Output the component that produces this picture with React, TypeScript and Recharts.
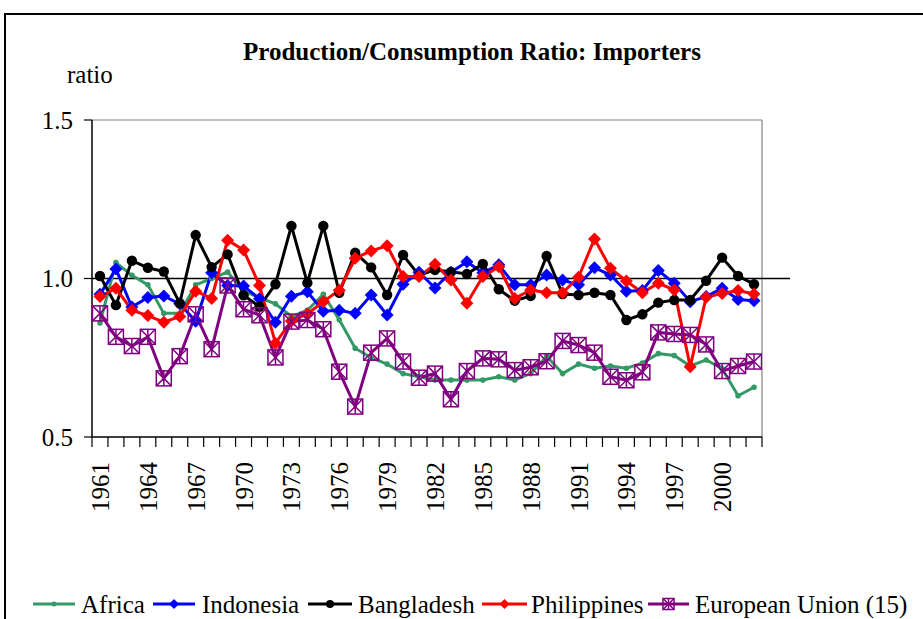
import React from 'react';
import { LineChart, Line, XAxis, YAxis, ReferenceLine } from 'recharts';

const years = [
  1961, 1962, 1963, 1964, 1965, 1966, 1967, 1968, 1969, 1970,
  1971, 1972, 1973, 1974, 1975, 1976, 1977, 1978, 1979, 1980,
  1981, 1982, 1983, 1984, 1985, 1986, 1987, 1988, 1989, 1990,
  1991, 1992, 1993, 1994, 1995, 1996, 1997, 1998, 1999, 2000,
  2001, 2002,
];

const africa = [
  0.86, 1.05, 1.01, 0.98, 0.89, 0.89, 0.98, 1.0, 1.02, 0.96,
  0.94, 0.92, 0.88, 0.9, 0.95, 0.87, 0.78, 0.75, 0.73, 0.7,
  0.69, 0.68, 0.68, 0.68, 0.68, 0.69, 0.68, 0.7, 0.755, 0.7,
  0.73, 0.717, 0.724, 0.717, 0.733, 0.763, 0.757, 0.724, 0.743, 0.716,
  0.63, 0.657,
];

const indonesia = [
  0.95, 1.03, 0.91, 0.94, 0.945, 0.92, 0.865, 1.018, 0.978, 0.976,
  0.936, 0.862, 0.944, 0.958, 0.897, 0.9, 0.89, 0.948, 0.885, 0.982,
  1.02, 0.97, 1.02, 1.053, 1.018, 1.043, 0.98, 0.98, 1.011, 0.995,
  0.98, 1.034, 1.011, 0.96, 0.962, 1.025, 0.985, 0.927, 0.943, 0.969,
  0.934, 0.93,
];

const bangladesh = [
  1.008, 0.916, 1.056, 1.034, 1.022, 0.922, 1.137, 1.036, 1.076, 0.947,
  0.911, 0.982, 1.166, 0.986, 1.166, 0.955, 1.081, 1.035, 0.948, 1.074,
  1.01, 1.027, 1.021, 1.014, 1.046, 0.966, 0.93, 0.945, 1.071, 0.951,
  0.948, 0.955, 0.948, 0.869, 0.887, 0.924, 0.932, 0.932, 0.993, 1.066,
  1.008, 0.982,
];

const philippines = [
  0.943, 0.969, 0.9, 0.883, 0.862, 0.88, 0.96, 0.937, 1.121, 1.09,
  0.978, 0.796, 0.866, 0.888, 0.927, 0.963, 1.064, 1.087, 1.103, 1.006,
  1.006, 1.045, 0.995, 0.922, 1.006, 1.037, 0.937, 0.964, 0.955, 0.955,
  1.004, 1.125, 1.032, 0.992, 0.955, 0.985, 0.964, 0.722, 0.941, 0.953,
  0.962, 0.951,
];

const europeanUnion = [
  0.89, 0.816, 0.787, 0.816, 0.685, 0.755, 0.887, 0.777, 0.978, 0.903,
  0.884, 0.751, 0.864, 0.869, 0.84, 0.706, 0.596, 0.766, 0.811, 0.738,
  0.687, 0.7, 0.619, 0.708, 0.748, 0.745, 0.711, 0.72, 0.739, 0.803,
  0.79, 0.766, 0.69, 0.679, 0.704, 0.83, 0.825, 0.822, 0.792, 0.708,
  0.724, 0.738,
];

const xTickLabels = [1961, 1964, 1967, 1970, 1973, 1976, 1979, 1982, 1985, 1988, 1991, 1994, 1997, 2000];
const yTicks = [0.5, 1.0, 1.5];

const seriesNames = ['Africa', 'Indonesia', 'Bangladesh', 'Philippines', 'European Union (15)'];
const seriesKeys = ['africa', 'indonesia', 'bangladesh', 'philippines', 'eu'];
const seriesColors = ['#339966', '#0000FF', '#000000', '#FF0000', '#800080'];

const data = years.map((y, i) => ({
  year: y,
  africa: africa[i],
  indonesia: indonesia[i],
  bangladesh: bangladesh[i],
  philippines: philippines[i],
  eu: europeanUnion[i],
}));

const boundaries = [years[0] - 0.5, ...years.map((y) => y + 0.5)];

const FONT = '"Liberation Serif", "Times New Roman", serif';
const FS = 25;

const Marker = ({ kind, cx, cy, color, small }: any) => {
  if (cx == null || cy == null) return null;
  if (kind === 'africa') {
    return <circle cx={cx} cy={cy} r={small ? 2.5 : 2.8} fill={color} />;
  }
  if (kind === 'bangladesh') {
    return <circle cx={cx} cy={cy} r={small ? 4 : 5.2} fill={color} />;
  }
  if (kind === 'indonesia' || kind === 'philippines') {
    const s = small ? 5 : 6.5;
    return (
      <polygon
        points={`${cx},${cy - s} ${cx + s},${cy} ${cx},${cy + s} ${cx - s},${cy}`}
        fill={color}
      />
    );
  }
  const h = small ? 5.5 : 7.5;
  return (
    <g stroke={color} strokeWidth={1.5} fill="none">
      <rect x={cx - h} y={cy - h} width={2 * h} height={2 * h} />
      <line x1={cx - h} y1={cy - h} x2={cx + h} y2={cy + h} />
      <line x1={cx + h} y1={cy - h} x2={cx - h} y2={cy + h} />
      <line x1={cx} y1={cy - h} x2={cx} y2={cy + h} />
    </g>
  );
};

const makeDot = (kind: string, color: string) => (props: any) => (
  <Marker key={`${kind}-${props.index}`} kind={kind} cx={props.cx} cy={props.cy} color={color} />
);

const XTick = (props: any) => {
  const { x, y, payload } = props;
  const v = payload.value;
  if (!Number.isInteger(v)) {
    return <line x1={x} y1={y} x2={x} y2={y + 10} stroke="#000" strokeWidth={1.2} />;
  }
  return (
    <text
      transform={`translate(${x + 9},${y + 25}) rotate(-90)`}
      textAnchor="end"
      fontFamily={FONT}
      fontSize={FS}
      fill="#000"
    >
      {v}
    </text>
  );
};

const YTick = (props: any) => {
  const { y, payload } = props;
  return (
    <text
      x={73}
      y={y + 8.5}
      textAnchor="end"
      fontFamily={FONT}
      fontSize={FS}
      fill="#000"
    >
      {Number(payload.value).toFixed(1)}
    </text>
  );
};

const legendPos = [
  { l1: 33, l2: 75, t: 81 },
  { l1: 153, l2: 195, t: 202 },
  { l1: 308, l2: 352, t: 358 },
  { l1: 482, l2: 527, t: 531 },
  { l1: 648, l2: 689, t: 695 },
];

export default function App() {
  return (
    <div style={{ position: 'absolute', left: 0, top: 0, width: 923, height: 619, background: '#fff', overflow: 'hidden' }}>
      <div style={{ position: 'absolute', left: 0, top: 0 }}>
        <LineChart
          width={923}
          height={619}
          data={data}
          margin={{ top: 120, right: 161, bottom: 122, left: 52 }}
        >
          <ReferenceLine y={1.5} stroke="#808080" strokeWidth={1.2} />
          <ReferenceLine x={2002.5} stroke="#808080" strokeWidth={1.2} />
          <XAxis
            dataKey="year"
            type="number"
            domain={[1960.5, 2002.5]}
            ticks={[...boundaries, ...xTickLabels]}
            interval={0}
            tickSize={0}
            tickMargin={0}
            tickLine={false}
            axisLine={{ stroke: '#000', strokeWidth: 1.5 }}
            tick={<XTick />}
            height={60}
            allowDataOverflow
          />
          <YAxis
            type="number"
            domain={[0.5, 1.5]}
            ticks={yTicks}
            interval={0}
            width={40}
            tickSize={8}
            tickLine={{ stroke: '#000', strokeWidth: 1.2 }}
            axisLine={{ stroke: '#000', strokeWidth: 1.5 }}
            tick={<YTick />}
            allowDataOverflow
          />
          <ReferenceLine
            segment={[{ x: 1960.5, y: 1 }, { x: 2004.26, y: 1 }]}
            stroke="#000"
            strokeWidth={1.5}
            ifOverflow="visible"
          />
          {seriesKeys.map((k, i) => (
            <Line
              key={k}
              type="linear"
              dataKey={k}
              name={seriesNames[i]}
              stroke={seriesColors[i]}
              strokeWidth={3}
              dot={makeDot(k, seriesColors[i])}
              activeDot={false}
              isAnimationActive={false}
            />
          ))}
        </LineChart>
      </div>
      <svg
        width={923}
        height={619}
        style={{ position: 'absolute', left: 0, top: 0, pointerEvents: 'none' }}
      >
        <line x1={5} y1={14} x2={923} y2={14} stroke="#000" strokeWidth={2} />
        <line x1={5} y1={13} x2={5} y2={619} stroke="#000" strokeWidth={2} />
        <text
          x={472}
          y={60}
          textAnchor="middle"
          fontFamily={FONT}
          fontSize={FS}
          fontWeight="bold"
          fill="#000"
        >
          Production/Consumption Ratio: Importers
        </text>
        <text x={67} y={83} fontFamily={FONT} fontSize={FS} fill="#000">
          ratio
        </text>
        {seriesKeys.map((k, i) => {
          const p = legendPos[i];
          const cy = 604;
          return (
            <g key={k}>
              <line x1={p.l1} y1={cy} x2={p.l2} y2={cy} stroke={seriesColors[i]} strokeWidth={3} />
              <Marker kind={k} cx={(p.l1 + p.l2) / 2} cy={cy} color={seriesColors[i]} small />
              <text x={p.t} y={cy + 8.5} fontFamily={FONT} fontSize={FS} fill="#000">
                {seriesNames[i]}
              </text>
            </g>
          );
        })}
      </svg>
    </div>
  );
}
